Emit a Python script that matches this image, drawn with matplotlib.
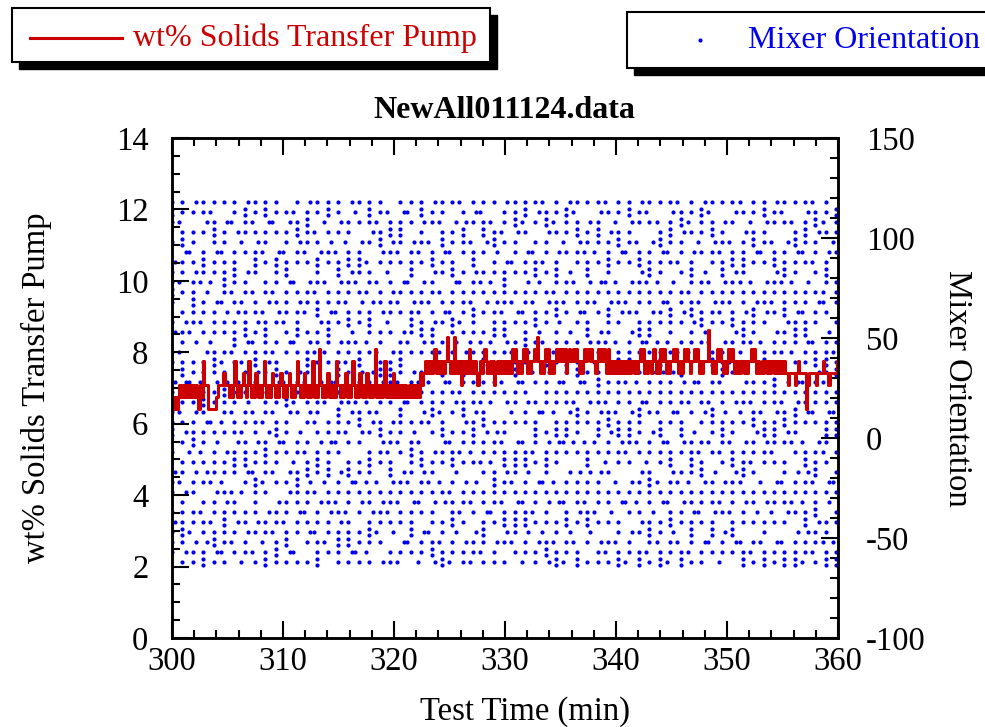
import matplotlib
matplotlib.use('Agg')
import matplotlib.pyplot as plt
from matplotlib.patches import Rectangle
from matplotlib.lines import Line2D
from matplotlib.ticker import MultipleLocator

plt.rcParams['font.family'] = ['Liberation Serif', 'DejaVu Serif']
plt.rcParams['axes.unicode_minus'] = False

# wt% solids, sampled every 0.125 min from 300 min; digits index pump_levels
pump_levels = [6.42, 6.75, 7.08, 7.42, 7.75, 8.08, 8.42, 8.62]
pump_start = 300.0
pump_step = 0.125
pump_codes = [
    "1010 1212 2121 2212 1210 2142 2200 0000 1222 2322",
    "2121 2421 2123 2124 2121 3212 1242 1212 3212 1232",
    "1212 3212 1242 1213 2121 2412 1252 1212 3121 2142",
    "2121 2312 1242 1213 2121 3212 1251 2121 2412 1213",
    "2121 2121 2112 1212 1213 2343 4343 4534 3434 3464",
    "3436 3434 2343 4353 4343 2343 4543 3434 2343 4343",
    "3434 3545 4343 4545 3434 4546 4343 4545 3434 4545",
    "4545 3454 4545 4343 4545 5454 4345 4545 4354 3434",
    "4343 4343 3434 4343 4545 3434 4345 4343 5454 3434",
    "4545 4343 4545 4344 5454 3434 4474 4343 4545 4343",
    "4545 4343 4344 3434 4545 4343 3434 4343 4434 3434",
    "3433 2333 3234 3333 3023 3333 2333 3433 3233 3334",
]

# mixer orientation: dot columns (min) and levels (deg), occupancy per column
mix_times = [300.0, 300.94, 301.87, 302.81, 303.74, 304.68, 305.61, 306.55,
             307.48, 308.42, 309.35, 310.29, 311.22, 312.16, 313.09, 314.03,
             314.96, 315.90, 316.83, 317.77, 318.70, 319.64, 320.57, 321.51,
             322.44, 323.38, 324.31, 325.25, 326.18, 327.12, 328.05, 328.99,
             329.92, 330.86, 331.79, 332.73, 333.66, 334.60, 335.53, 336.47,
             337.40, 338.34, 339.27, 340.21, 341.14, 342.08, 343.01, 343.95,
             344.88, 345.82, 346.75, 347.69, 348.62, 349.56, 350.49, 351.43,
             352.36, 353.30, 354.23, 355.17, 356.10, 357.04, 357.97, 358.91,
             359.84]
mix_levels = [118, 113, 108, 103, 98, 93, 88, 83, 78, 73, 68, 63, 58, 53, 48,
              43, 38, 33, 28, 23, 18, 13, 8, 3, -2, -7, -12, -17, -22, -27,
              -32, -37, -42, -47, -52, -57, -62]
mix_cols = [
    "o:olo.roo: olor.oolro ooo:lo.roo lorooo.loo",
    "oolo:roolo .oroolo:ro oloro.oolr ooo:oroloo",
    "ro.ooloroo :oolr.oolo oroo:loroo .oolroo:lo",
    "ooro.o:olr oolo.roolo :orooloro. olooro:loo",
    "olo:orool. rooolo:oro o.lorooolr oolo:ro.oo",
    "o.rooloo:o lroo.olor: oolo.roolo ro:ooloroo",
    "oolr.oo:ol oroo:lo.ro olooro:o.l oorolo.roo",
    "r:oolo.roo loo:rolo.o rooloo:rol .ooroolo:o",
    "ooloro:o.l oorolo:roo .loorool:o ooro.loroo",
    "o:roolo.oo rlo:ooro.l oolro:oolo .roolo:ooo",
    "oolo.r:ool oro.olo:ro olo:roolo. roolo:oroo",
    ".oroolo:ro ooloro.olo :roolo.ror oolo:roolo",
    "olo:roo.lo roo:lo.roo lo.roolo:o oroo.loroo",
    "ro:oolo.ro ol.oro:olo oro.olo:ro oloro.oolo",
    "oo.lor:ool o:roolo.ro ooloro:o.l rooloo:roo",
    "o:loroo.lo oro:olo.ro l.ooroo:lo oroolo.roo",
    "ooro.lo:ro olo.roo:lo r:oolo.roo loro:ooolo",
    "r.oolo:roo lo:roolo.o orolo.o:ro oloo:rolo.",
    "olo.ro:olo roo.lo:roo lo:ro.oolo ro.oolo:ro",
    "o:oro.lool ro:olo.roo loro.o:olo oro:olo.oo",
    "oolo:ro.lo or.oolo:ro olo:roo.lo roolo.ro:o",
    ".lo:roolor oolo.ro:ol o.roolo:ro olor.oolo:",
    "oro:olo.ro lo.roo:olo r:oolo.roo loo.rolo:o",
    "olo.roo:lo ro:olo.roo l.oro:oolo roo:lo.roo",
    "o:roolo.ro olo:ro.olo oro.lo:roo lo.roolo:o",
    "roo.lo:roo lor:oo.olo o:lo.roolo roolo:ro.o",
    "oolo:roo.l oro.olo:ro olo:roo.lo r.oolo:roo",
    "o.roolo:ro ol:oro.olo ro.olo:rol oo:roolo.o",
    "lor:oo.olo oolo.ro:ol o:roolo.ro olo.roo:lo",
    "oro.lo:roo l:oolo.roo oro:olo.ro lo.roolo:o",
    "olo:ro.olo ro.olo:roo lo:roolo.o oro:olo.ro",
    "o.lo:roolo roo:lo.roo l.oroolo:o olo.roo:lo",
    "roolo.ro:o olo:roo.lo r.oolo:roo lo:ro.oolo",
    "oo:roolo.o lro.olo:ro olo.ro:olo ro:olo.roo",
    "o:lo.rooro oloo:ro.lo roo.lo:roo lo:roolo.o",
    "oro.olo:ro lo:roo.lo. oro:olo.ro olo.roo:lo",
    "lo:roolo.o roo.lo:roo ol.oro:olo roolo:ro.o",
    "oolo.ro:ol o:roolo.ro olo:roo.lo r.oolo:roo",
    "r:oolo.roo lo.roo:olo oro:lo.roo lo:roolo.o",
    "olo:roo.lo oro.olo:ro l:oolo.roo oro.lo:roo",
    "o.roolo:ro olo:ro.olo roo.lo:roo lo:ro.oolo",
    "oro:olo.ro lo.roolo:o oro:lo.roo olo.roo:lo",
    "lo.roo:olo r:oolo.roo lo:roolo.o oro.olo:ro",
    "oolo:ro.lo oro.lo:roo olo:roo.lo r.oolo:roo",
    "o:roolo.ro lo.roo:olo oro:olo.ro lo.roolo:o",
    "roo.lo:roo olo:ro.olo r:oolo.roo loro.o:olo",
    "olo.roo:lo oro:lo.roo lo.roolo:o oro:olo.ro",
    "o.lo:roolo roo.lo:roo olo:roo.lo r.oolo:roo",
    "oro:olo.ro l:oolo.roo oro.lo:roo lo:roolo.o",
    "lo:roolo.o oro.olo:ro olo:ro.olo roo.lo:roo",
    "oolo.ro:ol o:roolo.ro lo.roo:olo oro:olo.ro",
    "r:oolo.roo lo:ro.oolo oro.olo:ro olo.roo:lo",
    "olo:roo.lo roo.lo:roo l:oolo.roo oro:lo.roo",
    "o.roolo:ro olo.roo:lo oro:olo.ro lo.roolo:o",
    "oro.lo:roo lo:roolo.o r.oolo:roo olo:ro.olo",
    "lo.roo:olo oro:olo.ro olo.roo:lo roo.lo:roo",
    "oolo:ro.lo r:oolo.roo lo:roolo.o oro.olo:ro",
    "o:roolo.ro oro.lo:roo olo:roo.lo r.oolo:roo",
    "roo.lo:roo lo.roolo:o oro:olo.ro olo.roo:lo",
    "olo.roo:lo o:roolo.ro lo:ro.oolo oro.lo:roo",
    "o.lo:roolo oro:olo.ro r:oolo.roo lo.roo:olo",
    "oro:olo.ro olo:roo.lo oro.lo:roo lo:roolo.o",
    "lo:roolo.o roo.lo:roo olo.roo:lo o:roolo.ro",
    "oolo.ro:ol lo.roo:olo oro:olo.ro r.oolo:roo",
    "r:oolo.roo oro.olo:ro olo:ro.olo roo.lo:roo",
]

# decode pump series
pump_vals = [pump_levels[int(c)] for s in pump_codes for c in s.replace(' ', '')]
pump_vals.append(pump_vals[-1])
pump_t = [pump_start + pump_step * i for i in range(len(pump_vals))]

# decode mixer dots
mx, my = [], []
for t, col in zip(mix_times, mix_cols):
    for lev, c in zip(mix_levels, col.replace(' ', '')):
        if c == 'o':
            mx.append(t); my.append(lev)
        elif c == 'l':
            mx.append(t - 0.3); my.append(lev)
        elif c == 'r':
            mx.append(t + 0.3); my.append(lev)
        elif c == ':':
            mx += [t, t]; my += [lev + 1.5, lev - 1.5]

W, H = 985, 727
fig = plt.figure(figsize=(W / 100, H / 100), dpi=100)
ax = fig.add_axes([172 / W, 1 - 638 / H, 666 / W, 500 / H])
ax2 = ax.twinx()

RED = '#cc0000'
BLUE = '#0000ee'
FS = 23.5

ax2.plot(mx, my, linestyle='none', marker='o', markersize=3.0,
         markeredgewidth=0, color=BLUE)
ax.plot(pump_t, pump_vals, drawstyle='steps-post', color=RED, linewidth=2.2)

ax.set_zorder(ax2.get_zorder() + 1)
ax.patch.set_visible(False)

ax.set_xlim(300, 360)
ax.set_ylim(0, 14)
ax2.set_ylim(-100, 150)

ax.xaxis.set_major_locator(MultipleLocator(10))
ax.xaxis.set_minor_locator(MultipleLocator(2))
ax.yaxis.set_major_locator(MultipleLocator(2))
ax.yaxis.set_minor_locator(MultipleLocator(0.5))
ax2.yaxis.set_major_locator(MultipleLocator(50))
ax2.yaxis.set_minor_locator(MultipleLocator(10))

for a in (ax, ax2):
    for sp in a.spines.values():
        sp.set_linewidth(1.8)

ax.tick_params(axis='x', which='both', direction='in', top=True, bottom=True,
               labelsize=FS, pad=6, width=1.5)
ax.tick_params(axis='y', which='both', direction='in', left=True, right=False,
               labelsize=FS, pad=17, width=1.5)
ax2.tick_params(axis='y', which='both', direction='in', labelsize=FS, pad=20,
                width=1.5)
for a in (ax, ax2):
    a.tick_params(which='major', length=12)
    a.tick_params(which='minor', length=6)

ax.set_ylabel('wt% Solids Transfer Pump', fontsize=FS, labelpad=46)
ax2.set_ylabel('Mixer Orientation', fontsize=FS, rotation=270, labelpad=34)
fig.text(525 / W, 1 - 712 / H, 'Test Time (min)', fontsize=FS,
         ha='center', va='center')
fig.text(504 / W, 1 - 110 / H, 'NewAll011124.data', fontsize=23,
         fontweight='bold', ha='center', va='center')


def box(x0, y0, x1, y1):
    sh = 7
    fig.patches.append(Rectangle(((x0 + sh) / W, 1 - (y1 + sh) / H),
                                 (x1 - x0) / W, (y1 - y0) / H,
                                 transform=fig.transFigure, facecolor='black',
                                 edgecolor='black', zorder=1))
    fig.patches.append(Rectangle((x0 / W, 1 - y1 / H), (x1 - x0) / W,
                                 (y1 - y0) / H, transform=fig.transFigure,
                                 facecolor='white', edgecolor='black',
                                 linewidth=1.5, zorder=2))


box(12, 8, 490, 62)
box(627, 12, 995, 68)
fig.lines.append(Line2D([30 / W, 122 / W], [1 - 38 / H, 1 - 38 / H],
                        transform=fig.transFigure, color=RED, linewidth=2.2,
                        zorder=3))
fig.text(133 / W, 1 - 38 / H, 'wt% Solids Transfer Pump', color=RED,
         fontsize=23, va='center', ha='left', zorder=3)
fig.lines.append(Line2D([700 / W], [1 - 40 / H], transform=fig.transFigure,
                        linestyle='none', marker='o', markersize=3.0,
                        markeredgewidth=0, color=BLUE, zorder=3))
fig.text(748 / W, 1 - 40 / H, 'Mixer Orientation', color=BLUE,
         fontsize=23, va='center', ha='left', zorder=3)

fig.savefig('out.png', dpi=100)
